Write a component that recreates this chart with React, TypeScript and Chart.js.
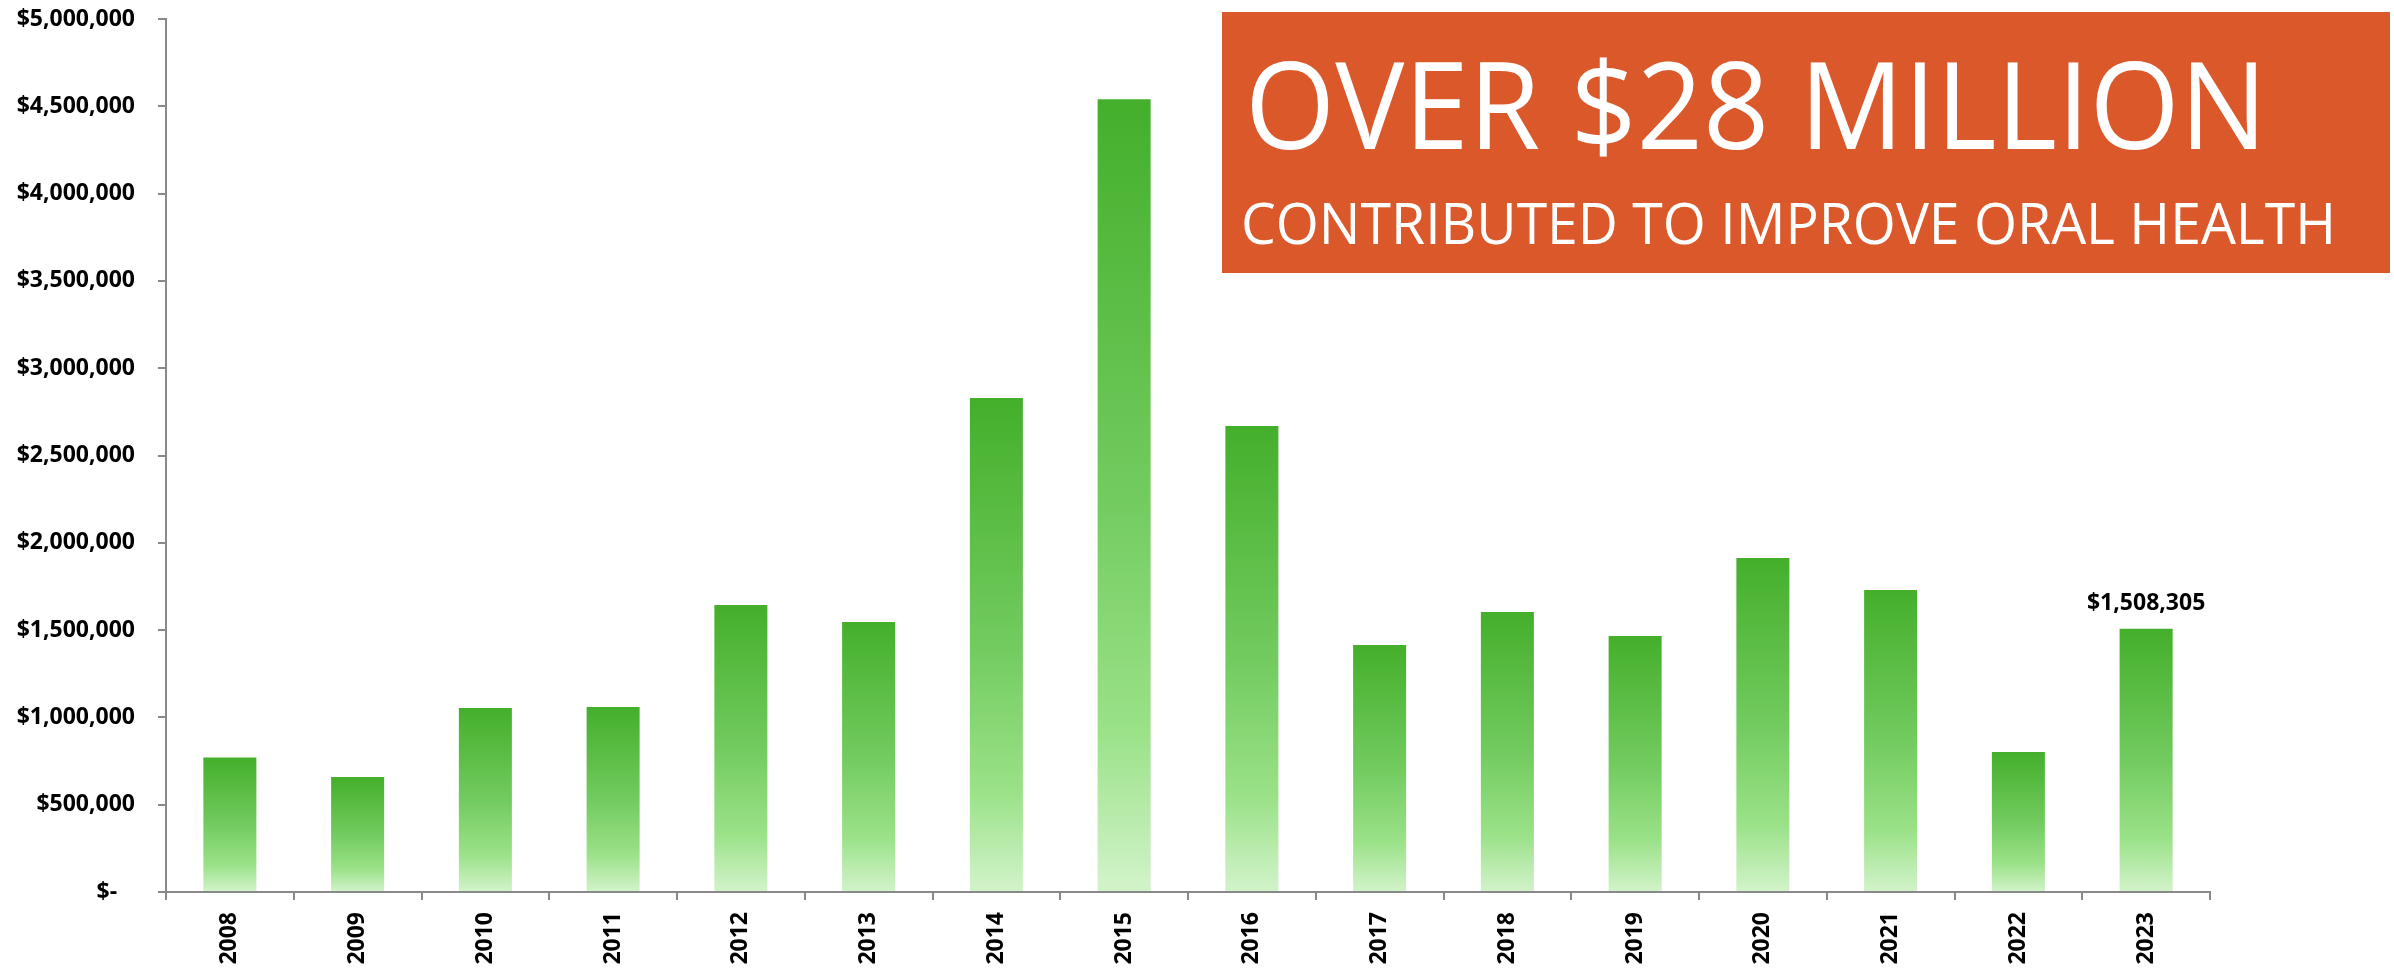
import React, { useEffect, useRef } from "react";
import { Chart, registerables } from "chart.js";

Chart.register(...registerables);

const years = ["2008", "2009", "2010", "2011", "2012", "2013", "2014", "2015", "2016", "2017", "2018", "2019", "2020", "2021", "2022", "2023"];
const contributions = [770000, 659000, 1054000, 1060000, 1644000, 1546000, 2829000, 4541000, 2669000, 1415000, 1604000, 1466000, 1913000, 1730000, 802000, 1508305];
const labeledIndex = 15;
const titleText = "OVER $28 MILLION";
const subtitleText = "CONTRIBUTED TO IMPROVE ORAL HEALTH";

const W = 2394;
const H = 970;
const AXIS = "#898989";
const LABEL_FONT = "'Open Sans', sans-serif";

function fmt(v: number) {
  if (v === 0) return "$-   ";
  return "$" + v.toLocaleString("en-US");
}

export default function App() {
  const ref = useRef<HTMLCanvasElement | null>(null);
  useEffect(() => {
    document.body.style.margin = "0";
    const canvas = ref.current!;
    const valueLabel = {
      id: "valueLabel",
      afterDatasetsDraw(chart: any) {
        const meta = chart.getDatasetMeta(0);
        const el = meta.data[labeledIndex];
        if (!el) return;
        const ctx = chart.ctx;
        ctx.save();
        ctx.font = `700 23px ${LABEL_FONT}`;
        ctx.fillStyle = "#000";
        ctx.textAlign = "center";
        ctx.textBaseline = "alphabetic";
        ctx.fillText(fmt(contributions[labeledIndex]), el.x, el.y - 19);
        ctx.restore();
      },
    };
    const banner = {
      id: "banner",
      afterDraw(chart: any) {
        const ctx = chart.ctx;
        ctx.save();
        ctx.fillStyle = "#DB582B";
        ctx.fillRect(1222, 12, 1168, 261);
        ctx.fillStyle = "#fff";
        ctx.textBaseline = "alphabetic";
        ctx.textAlign = "left";
        const drawFit = (t: string, font: string, x: number, y: number, w: number) => {
          ctx.font = font;
          const m = ctx.measureText(t).width;
          ctx.save();
          ctx.translate(x, y);
          ctx.scale(w / m, 1);
          ctx.fillText(t, 0, 0);
          ctx.restore();
        };
        drawFit(titleText, "400 120px 'Open Sans'", 1245, 149, 1022);
        drawFit(subtitleText, "400 57px 'Open Sans'", 1241, 244, 1095);
        ctx.restore();
      },
    };
    const chart = new Chart(canvas, {
      type: "bar",
      data: {
        labels: years,
        datasets: [
          {
            data: contributions,
            barPercentage: 0.415,
            categoryPercentage: 1,
            borderWidth: 0,
            backgroundColor: (c: any) => {
              const ch = c.chart;
              const ys = ch.scales && ch.scales.y;
              if (!ys || c.dataIndex === undefined) return "#6cc858";
              const v = contributions[c.dataIndex];
              const top = ys.getPixelForValue(v);
              const base = ys.getPixelForValue(0);
              if (!isFinite(top) || !isFinite(base) || top === base) return "#6cc858";
              const g = ch.ctx.createLinearGradient(0, top, 0, base);
              g.addColorStop(0, "#44AF2B");
              g.addColorStop(0.5, "#72CB5F");
              g.addColorStop(0.8, "#9BE289");
              g.addColorStop(1, "#D3F3CB");
              return g;
            },
          },
        ],
      },
      options: {
        responsive: false,
        animation: false,
        layout: { padding: { top: 19, right: 184, left: 0, bottom: 0 } },
        plugins: { legend: { display: false }, tooltip: { enabled: false }, title: { display: false } },
        scales: {
          x: {
            afterFit: (s: any) => {
              s.height = 78;
              s.paddingLeft = 0;
              s.paddingRight = 0;
            },
            border: { display: true, color: AXIS, width: 2 },
            grid: { display: true, drawOnChartArea: false, drawTicks: true, tickLength: 8, color: AXIS, lineWidth: 2, offset: true },
            ticks: {
              minRotation: 90,
              maxRotation: 90,
              padding: 12,
              color: "#000",
              font: { family: LABEL_FONT, size: 23, weight: "bold" },
              autoSkip: false,
            },
          },
          y: {
            min: 0,
            max: 5000000,
            afterFit: (s: any) => {
              s.width = 166;
              s.paddingTop = 0;
              s.paddingBottom = 0;
            },
            border: { display: true, color: AXIS, width: 2 },
            grid: { display: true, drawOnChartArea: false, drawTicks: true, tickLength: 8, color: AXIS, lineWidth: 2 },
            ticks: {
              stepSize: 500000,
              padding: 23,
              color: "#000",
              font: { family: LABEL_FONT, size: 23, weight: "bold" },
              callback: (v: any) => fmt(Number(v)),
            },
          },
        },
      },
      plugins: [valueLabel, banner],
    } as any);
    return () => chart.destroy();
  }, []);
  return (
    <div style={{ width: W, height: H, position: "relative", background: "#fff" }}>
      <canvas ref={ref} width={W} height={H} style={{ width: W, height: H, display: "block" }} />
    </div>
  );
}
